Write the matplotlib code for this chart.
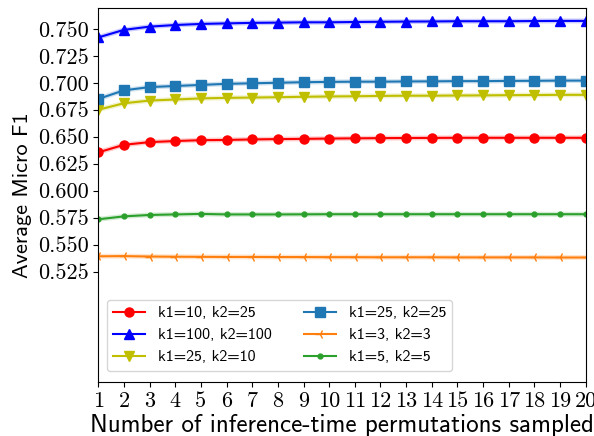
import matplotlib
matplotlib.use("Agg")
import matplotlib.pyplot as plt
from matplotlib.ticker import FormatStrFormatter

x = list(range(1, 21))

labels = ["k1=10, k2=25", "k1=100, k2=100", "k1=25, k2=10",
          "k1=25, k2=25", "k1=3, k2=3", "k1=5, k2=5"]

red_10_25 = [0.6355, 0.6425, 0.645, 0.646, 0.6468, 0.647, 0.6475, 0.6478, 0.648, 0.6483,
             0.6485, 0.6487, 0.6488, 0.6489, 0.649, 0.649, 0.649, 0.649, 0.649, 0.649]
blue_100_100 = [0.742, 0.749, 0.752, 0.7535, 0.7545, 0.755, 0.7555, 0.7557, 0.756, 0.756,
                0.7563, 0.7565, 0.7567, 0.7568, 0.757, 0.757, 0.757, 0.7572, 0.7573, 0.7573]
yellow_25_10 = [0.675, 0.681, 0.6835, 0.6845, 0.6855, 0.686, 0.6863, 0.6866, 0.687, 0.6873,
                0.6875, 0.6878, 0.688, 0.688, 0.6882, 0.6883, 0.6885, 0.6886, 0.6888, 0.6888]
sq_25_25 = [0.685, 0.693, 0.696, 0.697, 0.698, 0.699, 0.6995, 0.700, 0.7005, 0.7008,
            0.701, 0.701, 0.7012, 0.7013, 0.7015, 0.7015, 0.7017, 0.7018, 0.702, 0.702]
orange_3_3 = [0.5392, 0.5394, 0.5390, 0.5388, 0.5387, 0.5386, 0.5386, 0.5385, 0.5385, 0.5384,
              0.5384, 0.5383, 0.5383, 0.5383, 0.5382, 0.5382, 0.5382, 0.5382, 0.5381, 0.5381]
green_5_5 = [0.5735, 0.5762, 0.5775, 0.578, 0.5785, 0.578, 0.578, 0.578, 0.5781, 0.5782,
             0.5782, 0.5782, 0.5782, 0.5782, 0.5782, 0.5782, 0.5782, 0.5782, 0.5782, 0.5782]

yticks = [0.525, 0.550, 0.575, 0.600, 0.625, 0.650, 0.675, 0.700, 0.725, 0.750]

series = [red_10_25, blue_100_100, yellow_25_10, sq_25_25, orange_3_3, green_5_5]
colors = ["red", "blue", "#bfbf00", "#1f77b4", "#ff7f0e", "#2ca02c"]
markers = ["o", "^", "v", "s", "3", "."]
msizes = [6.5, 6.5, 6.5, 6.5, 7, 7]

fig = plt.figure(figsize=(5.94, 4.36), dpi=100)
ax = fig.add_axes([0.1655, 0.1245, 0.8205, 0.8565])

for ys, c, m, ms, lab in zip(series, colors, markers, msizes, labels):
    ax.plot(x, ys, color=c, lw=3.5, alpha=0.2, solid_capstyle="butt")
    ax.plot(x, ys, color=c, lw=1.5, marker=m, markersize=ms, label=lab)

ax.set_xlim(1, 20)
ax.set_ylim(0.423, 0.769)
ax.set_xticks(x)
ax.set_yticks(yticks)
ax.yaxis.set_major_formatter(FormatStrFormatter("%.3f"))
for t in ax.get_xticklabels() + ax.get_yticklabels():
    t.set_fontfamily("cmr10")
    t.set_fontsize(16)

ax.set_xlabel("Number of inference-time permutations sampled", fontfamily="cmss10",
              fontsize=18, labelpad=2)
ax.set_ylabel("Average Micro F1", fontfamily="cmss10", fontsize=16, labelpad=4)

leg = ax.legend(loc="lower left", ncol=2, prop={"family": "cmss10", "size": 11.5},
                bbox_to_anchor=(0.018, 0.029), borderaxespad=0.0,
                columnspacing=2.0, handlelength=2.0)

fig.savefig("out.png", dpi=100)
